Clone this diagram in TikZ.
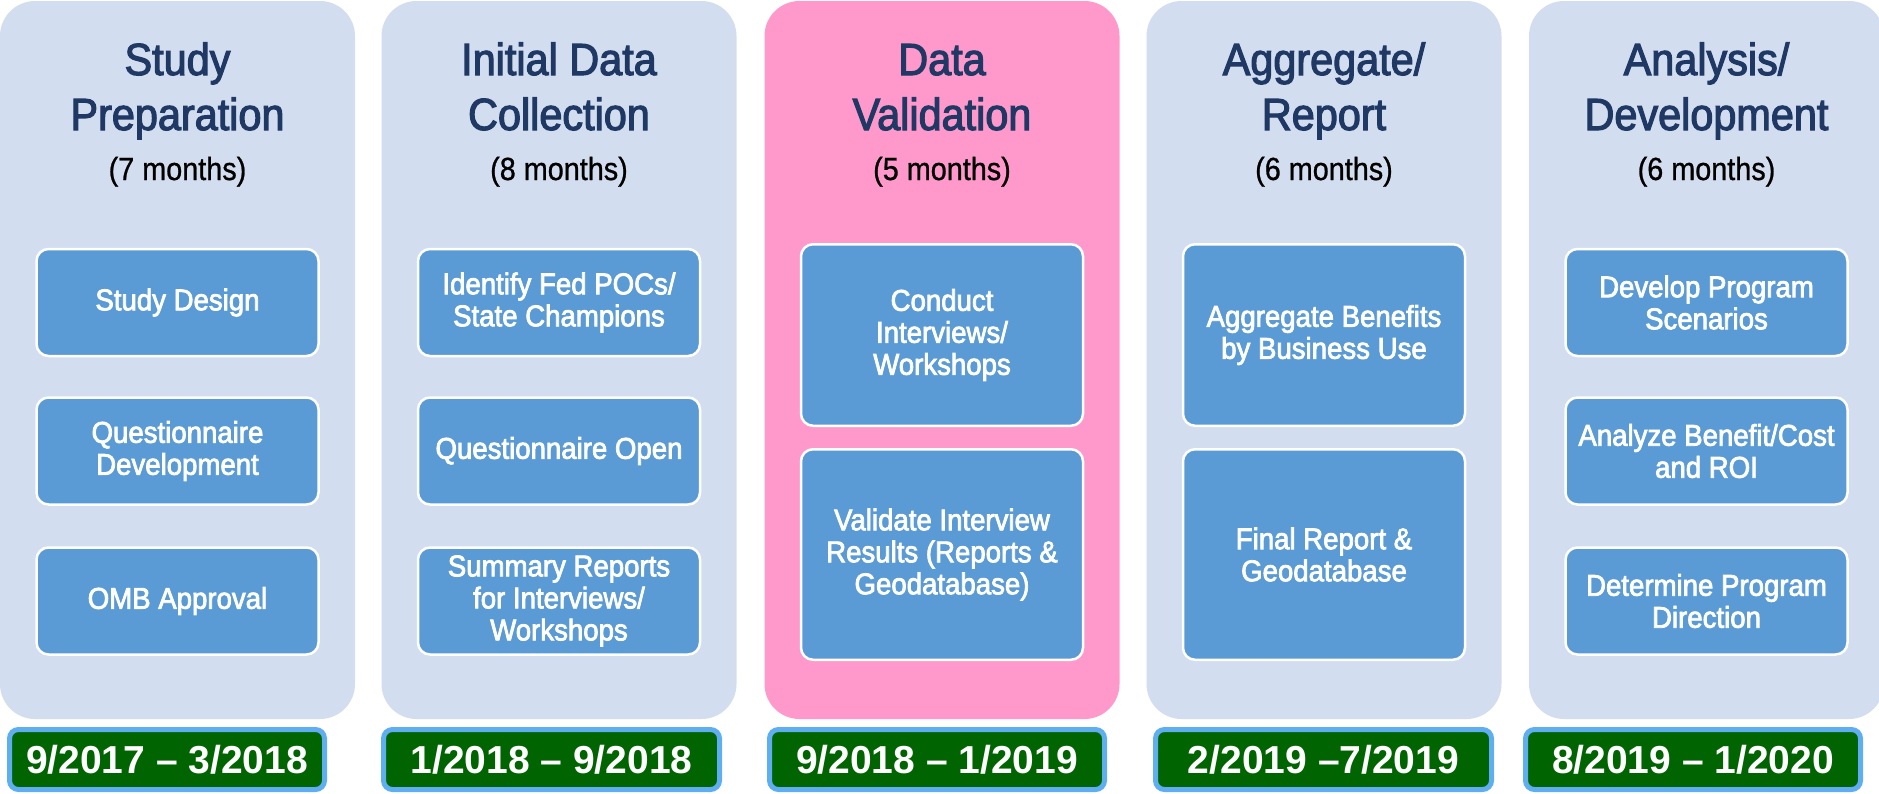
\documentclass[tikz,border=0pt]{standalone}
\usepackage{fontspec}
\setmainfont{Liberation Sans}
\newfontfamily\nar[FakeStretch=0.92,FakeBold=2.5]{Liberation Sans}
\newfontfamily\narsub[FakeStretch=0.9,FakeBold=0.8]{Liberation Sans}
\definecolor{colbg}{HTML}{D2DEEF}
\definecolor{colpink}{HTML}{FF99CC}
\definecolor{boxblue}{HTML}{5B9BD5}
\definecolor{titleblue}{HTML}{1F3864}
\definecolor{dategreen}{HTML}{006400}
\definecolor{dateborder}{HTML}{5FAEF2}
\begin{document}
\begin{tikzpicture}[x=1pt,y=-1pt,
  col/.style={rounded corners=35pt, minimum width=355pt, minimum height=718pt, inner sep=0pt, fill=colbg},
  ttl/.style={anchor=base, inner sep=0pt, text=titleblue, font=\nar\fontsize{45}{55}\selectfont},
  sub/.style={anchor=base, inner sep=0pt, text=black, font=\narsub\fontsize{32}{36}\selectfont},
  task/.style={rounded corners=12pt, fill=boxblue, draw=white, line width=2.5pt, text=white, align=center, inner sep=0pt, minimum width=282pt, font=\nar\fontsize{30}{32}\selectfont},
  small/.style={task, minimum height=107pt},
  datebox/.style={rounded corners=9pt, fill=dategreen, draw=dateborder, line width=5pt, text=white, inner sep=0pt, minimum height=60pt, font=\bfseries\fontsize{39}{44}\selectfont}
]
\useasboundingbox (0,0) rectangle (1879,793);

% columns
\node[col] (c1) at (177.5,360) {};
\node[col] (c2) at (559,360) {};
\node[col, fill=colpink] (c3) at (942,360) {};
\node[col] (c4) at (1324,360) {};
\node[col] (c5) at (1706.5,360) {};

% titles
\node[ttl] (t1a) at (177.5,75) {Study};
\node[ttl] (t1b) at (177.5,130) {Preparation};
\node[sub] (s1) at (177.5,180) {(7 months)};
\node[ttl] (t2a) at (559,75) {Initial Data};
\node[ttl] (t2b) at (559,130) {Collection};
\node[sub] (s2) at (559,180) {(8 months)};
\node[ttl] (t3a) at (942,75) {Data};
\node[ttl] (t3b) at (942,130) {Validation};
\node[sub] (s3) at (942,180) {(5 months)};
\node[ttl] (t4a) at (1324,75) {Aggregate/};
\node[ttl] (t4b) at (1324,130) {Report};
\node[sub] (s4) at (1324,180) {(6 months)};
\node[ttl] (t5a) at (1706.5,75) {Analysis/};
\node[ttl] (t5b) at (1706.5,130) {Development};
\node[sub] (s5) at (1706.5,180) {(6 months)};

% tasks column 1
\node[small] (b11) at (177.5,302.5) {Study Design};
\node[small] (b12) at (177.5,451) {Questionnaire\\Development};
\node[small] (b13) at (177.5,601) {OMB Approval};
% column 2
\node[small] (b21) at (559,302.5) {Identify Fed POCs/\\State Champions};
\node[small] (b22) at (559,451) {Questionnaire Open};
\node[small] (b23) at (559,601) {Summary Reports\\for Interviews/\\Workshops};
% column 3
\node[task, minimum height=181.5pt] (b31) at (942,335) {Conduct\\Interviews/\\Workshops};
\node[task, minimum height=210.5pt] (b32) at (942,554.5) {Validate Interview\\Results (Reports \&\\Geodatabase)};
% column 4
\node[task, minimum height=181.5pt] (b41) at (1324,335) {Aggregate Benefits\\by Business Use};
\node[task, minimum height=210.5pt] (b42) at (1324,554.5) {Final Report \&\\Geodatabase};
% column 5
\node[small] (b51) at (1706.5,302.5) {Develop Program\\Scenarios};
\node[small] (b52) at (1706.5,451) {Analyze Benefit/Cost\\and ROI};
\node[small] (b53) at (1706.5,601) {Determine Program\\Direction};

% dates
\node[datebox, minimum width=315pt] (d1) at (167,759.5) {9/2017 – 3/2018};
\node[datebox, minimum width=336pt] (d2) at (551.5,759.5) {1/2018 – 9/2018};
\node[datebox, minimum width=335pt] (d3) at (937,759.5) {9/2018 – 1/2019};
\node[datebox, minimum width=336pt] (d4) at (1323.5,759.5) {2/2019 –7/2019};
\node[datebox, minimum width=335pt] (d5) at (1693,759.5) {8/2019 – 1/2020};
\end{tikzpicture}
\end{document}
